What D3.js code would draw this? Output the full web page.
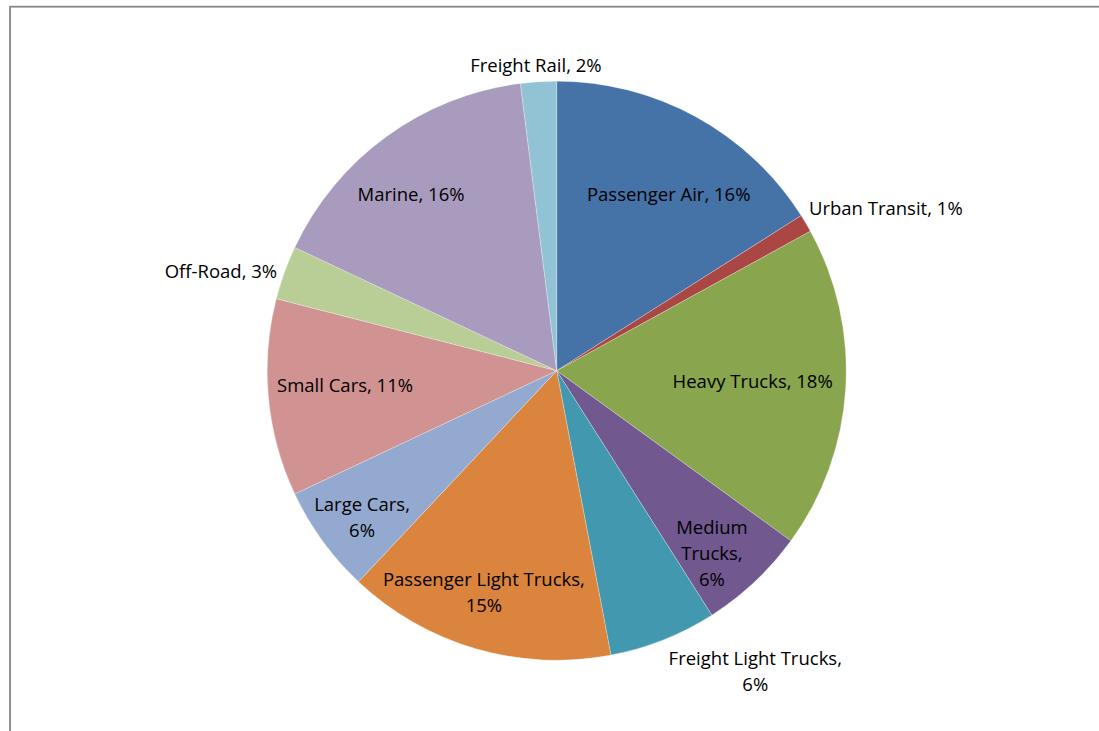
<!DOCTYPE html>
<html>
<head>
<meta charset="utf-8">
<script src="https://cdn.jsdelivr.net/npm/d3@7"></script>
<style>
  html, body { margin: 0; padding: 0; background: #fff; }
  svg { display: block; }
  text { font-family: "Open Sans", "Noto Sans", sans-serif; fill: #000; }
</style>
</head>
<body>
<svg id="chart" width="1099" height="731"></svg>
<script>
// Share of transportation energy use by mode (percent)
const categories = [
  "Passenger Air", "Urban Transit", "Heavy Trucks", "Medium Trucks",
  "Freight Light Trucks", "Passenger Light Trucks", "Large Cars",
  "Small Cars", "Off-Road", "Marine", "Freight Rail"
];
const shares = [16, 1, 18, 6, 6, 15, 6, 11, 3, 16, 2];
const colors = [
  "#4572A7", "#AA4643", "#89A54E", "#71588F", "#4198AF", "#DB843D",
  "#93A9CF", "#D19392", "#B9CD96", "#A99BBD", "#92C3D4"
];
// How each data label is broken into lines
const labelLines = [
  ["Passenger Air, 16%"], ["Urban Transit, 1%"], ["Heavy Trucks, 18%"],
  ["Medium", "Trucks,", "6%"], ["Freight Light Trucks,", "6%"],
  ["Passenger Light Trucks,", "15%"], ["Large Cars,", "6%"],
  ["Small Cars, 11%"], ["Off-Road, 3%"], ["Marine, 16%"], ["Freight Rail, 2%"]
];
// Label placement: distance from centre (as a fraction of the radius) and
// a small turn (degrees) away from the slice's middle angle
const labelRadius = [0.72, 1.267, 0.678, 0.829, 1.246, 0.805, 0.843, 0.733, 1.209, 0.791, 1.058];
const labelTurn   = [3.7, 4.4, -0.3, 2.9, -11.8, 2.0, -1.1, 1.3, -3.4, -3.5, -0.3];

const svg = d3.select("#chart");
const W = 1099, H = 731;
const cx = 556.7, cy = 370.7, R = 289.5;

// Chart-area frame (right and bottom edges fall outside the view)
svg.append("rect")
  .attr("x", 10).attr("y", 6.7)
  .attr("width", W + 20).attr("height", H + 20)
  .attr("fill", "#fff")
  .attr("stroke", "#878787")
  .attr("stroke-width", 1.8);

const data = categories.map((c, i) => ({ name: c, value: shares[i], i }));

const pie = d3.pie().value(d => d.value).sort(null);
const arc = d3.arc().innerRadius(0).outerRadius(R);
const arcs = pie(data);

const g = svg.append("g").attr("transform", `translate(${cx},${cy})`);

g.selectAll("path.slice")
  .data(arcs)
  .join("path")
  .attr("class", "slice")
  .attr("d", arc)
  .attr("fill", d => colors[d.data.i])
  .attr("stroke", "#ffffff")
  .attr("stroke-opacity", 0.45)
  .attr("stroke-width", 0.6);

const fontSize = 18.5, lineH = 26;

const labels = g.selectAll("g.label")
  .data(arcs)
  .join("g")
  .attr("class", "label")
  .attr("transform", d => {
    const i = d.data.i;
    const a = (d.startAngle + d.endAngle) / 2 + labelTurn[i] * Math.PI / 180;
    const r = labelRadius[i] * R;
    return `translate(${r * Math.sin(a)},${-r * Math.cos(a) - 1})`;
  });

labels.each(function(d) {
  const lines = labelLines[d.data.i];
  const n = lines.length;
  d3.select(this).selectAll("text")
    .data(lines)
    .join("text")
    .attr("text-anchor", "middle")
    .attr("dominant-baseline", "central")
    .attr("font-size", fontSize)
    .attr("y", (t, k) => (k - (n - 1) / 2) * lineH)
    .text(t => t);
});
</script>
</body>
</html>
